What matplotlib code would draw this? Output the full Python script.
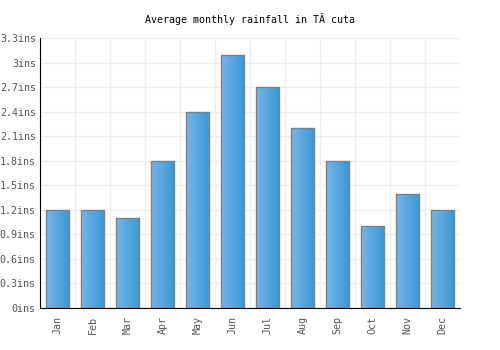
import matplotlib
matplotlib.use("Agg")
import matplotlib.pyplot as plt
import numpy as np
from matplotlib.colors import LinearSegmentedColormap

months = ["Jan", "Feb", "Mar", "Apr", "May", "Jun", "Jul", "Aug", "Sep", "Oct", "Nov", "Dec"]
rainfall = [1.2, 1.2, 1.1, 1.8, 2.4, 3.1, 2.7, 2.2, 1.8, 1.0, 1.4, 1.2]
yticks = [0, 0.3, 0.6, 0.9, 1.2, 1.5, 1.8, 2.1, 2.4, 2.7, 3.0, 3.3]
ytick_labels = ["0ins", "0.3ins", "0.6ins", "0.9ins", "1.2ins", "1.5ins", "1.8ins",
                "2.1ins", "2.4ins", "2.7ins", "3ins", "3.3ins"]
title = "Average monthly rainfall in TÃ cuta"

plt.rcParams['font.family'] = ['DejaVu Sans Mono', 'DejaVu Sans']

fig = plt.figure(figsize=(5, 3.5), dpi=100)
ax = fig.add_axes([0.08, 0.12, 0.84, 0.771])

x = np.arange(len(months))
width = 0.66
bars = ax.bar(x, rainfall, width=width, color='none', edgecolor='#808080', linewidth=1.0, zorder=3)

cmap = LinearSegmentedColormap.from_list('g', ['#74b6ea', '#3a97d2'])
grad = np.linspace(0, 1, 64).reshape(1, -1)
for b in bars:
    xl, yb = b.get_x(), b.get_y()
    w, h = b.get_width(), b.get_height()
    im = ax.imshow(grad, extent=[xl, xl + w, yb, yb + h], aspect='auto', cmap=cmap, zorder=2)
    im.set_clip_path(b)

ax.set_xlim(-0.5, len(months) - 0.5)
ax.set_ylim(0, 3.3)
ax.set_yticks(yticks)
ax.set_yticklabels(ytick_labels, fontsize=7.2, color='#555555')
ax.set_xticks(x)
ax.set_xticklabels(months, rotation=90, fontsize=7.2, color='#555555')
ax.set_xticks(np.arange(len(months) + 1) - 0.5, minor=True)
ax.grid(True, axis='y', color='#eeeeee', linewidth=1, zorder=0)
ax.grid(True, axis='x', which='minor', color='#eeeeee', linewidth=1, zorder=0)
ax.tick_params(axis='both', which='both', length=0)
ax.tick_params(axis='y', pad=3)
ax.tick_params(axis='x', pad=6)

for s in ['top', 'right']:
    ax.spines[s].set_visible(False)
ax.spines['left'].set_color('#000000')
ax.spines['bottom'].set_color('#000000')

fig.text(0.5, 0.945, title, ha='center', va='center', fontsize=7.2, color='#000000')

fig.savefig('out.png', dpi=100)
